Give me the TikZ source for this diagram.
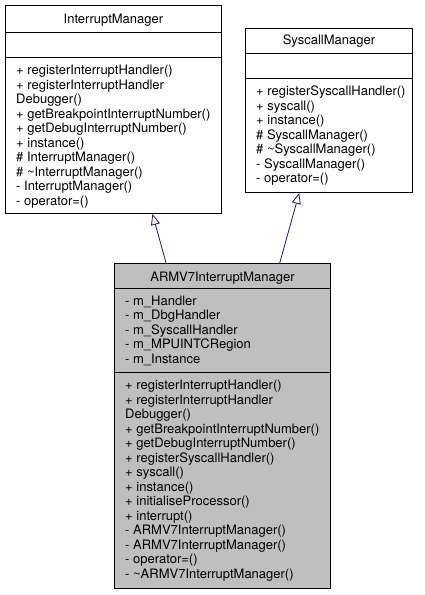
\documentclass[tikz,border=0pt]{standalone}
\usepackage{fontspec}
\setmainfont{TeX Gyre Heros}
\usepackage{tikz}
\usetikzlibrary{arrows.meta,calc}

\definecolor{edgeblue}{RGB}{25,25,112}
\definecolor{classgray}{RGB}{191,191,191}

\tikzset{
  classbox/.style={draw=black,line width=0.9pt,anchor=north west,inner sep=0pt},
  members/.style={anchor=north west,align=left,inner sep=0pt,font=\fontsize{13}{14.5}\selectfont},
  title/.style={anchor=base,inner sep=0pt,font=\fontsize{13}{14.5}\selectfont},
  inherit/.style={draw=edgeblue,line width=0.8pt,-{Triangle[open,length=11pt,width=9pt]}}
}

\begin{document}
\begin{tikzpicture}[x=1pt,y=-1pt]

        \useasboundingbox (0,0) rectangle (424,595);

        % class boxes
        \node[classbox,minimum width=216pt,minimum height=208pt] (im) at (5,5) {};
        \node[classbox,minimum width=167pt,minimum height=164pt] (sm) at (245,28) {};
        \node[classbox,fill=classgray,minimum width=216pt,minimum height=325pt] (armv7) at (114,263) {};

        % compartments
        \draw[line width=0.9pt] ([yshift=-27pt]im.north west) -- ([yshift=-27pt]im.north east);
        \draw[line width=0.9pt] ([yshift=-52pt]im.north west) -- ([yshift=-52pt]im.north east);
        \draw[line width=0.9pt] ([yshift=-25pt]sm.north west) -- ([yshift=-25pt]sm.north east);
        \draw[line width=0.9pt] ([yshift=-50pt]sm.north west) -- ([yshift=-50pt]sm.north east);
        \draw[line width=0.9pt] ([yshift=-25pt]armv7.north west) -- ([yshift=-25pt]armv7.north east);
        \draw[line width=0.9pt] ([yshift=-109pt]armv7.north west) -- ([yshift=-109pt]armv7.north east);

        % titles
        \node[title] (im-title) at ([yshift=-18pt]im.north) {InterruptManager};
        \node[title] (sm-title) at ([yshift=-16.5pt]sm.north) {SyscallManager};
        \node[title] (armv7-title) at ([yshift=-18pt]armv7.north) {ARMV7InterruptManager};

        % members
        \node[members] (im-ops) at ([xshift=11pt,yshift=-60pt]im.north west)
            {+ registerInterruptHandler()\\+ registerInterruptHandler\\Debugger()\\+ getBreakpointInterruptNumber()\\+ getDebugInterruptNumber()\\+ instance()\\\# InterruptManager()\\\# \textasciitilde InterruptManager()\\- InterruptManager()\\- operator=()};
        \node[members] (sm-ops) at ([xshift=11pt,yshift=-58pt]sm.north west)
            {+ registerSyscallHandler()\\+ syscall()\\+ instance()\\\# SyscallManager()\\\# \textasciitilde SyscallManager()\\- SyscallManager()\\- operator=()};
        \node[members] (armv7-attrs) at ([xshift=11pt,yshift=-32.5pt]armv7.north west)
            {- m\_Handler\\- m\_DbgHandler\\- m\_SyscallHandler\\- m\_MPUINTCRegion\\- m\_Instance};
        \node[members] (armv7-ops) at ([xshift=11pt,yshift=-117pt]armv7.north west)
            {+ registerInterruptHandler()\\+ registerInterruptHandler\\Debugger()\\+ getBreakpointInterruptNumber()\\+ getDebugInterruptNumber()\\+ registerSyscallHandler()\\+ syscall()\\+ instance()\\+ initialiseProcessor()\\+ interrupt()\\- ARMV7InterruptManager()\\- ARMV7InterruptManager()\\- operator=()\\- \textasciitilde ARMV7InterruptManager()};

        % inheritance
        \path[inherit] ($(armv7.north west)!0.24!(armv7.north east)$) -- ($(im.south west)!0.68!(im.south east)$);
        \path[inherit] ($(armv7.north west)!0.764!(armv7.north east)$) -- ($(sm.south west)!0.323!(sm.south east)$);

\end{tikzpicture}
\end{document}
